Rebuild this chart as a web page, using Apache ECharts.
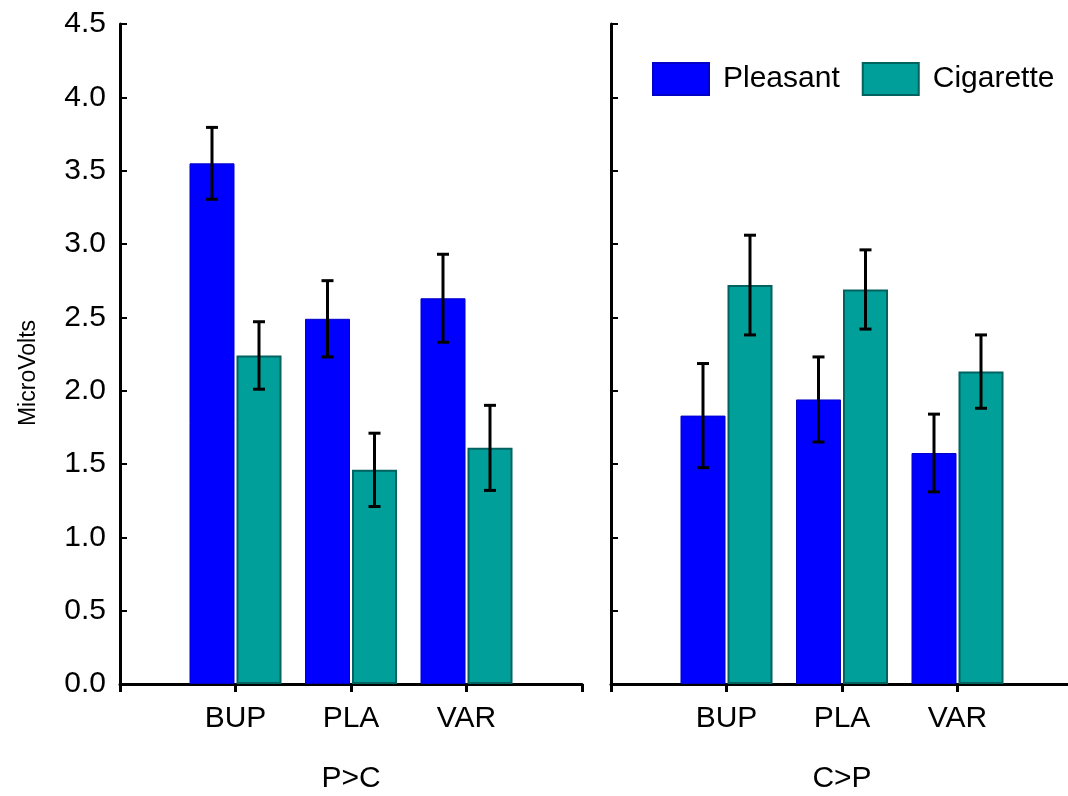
<!DOCTYPE html>
<html>
<head>
<meta charset="utf-8">
<title>MicroVolts</title>
<script src="https://cdn.jsdelivr.net/npm/echarts@6/dist/echarts.min.js"></script>
<style>
html, body { margin: 0; padding: 0; background: #fff; }
#chart { width: 1068px; height: 796px; }
</style>
</head>
<body>
<div id="chart"></div>
<script>
// values
const categories = ['BUP', 'PLA', 'VAR']
const panels = ['P>C', 'C>P']
const yTicks = [0, 0.5, 1.0, 1.5, 2.0, 2.5, 3.0, 3.5, 4.0, 4.5]

const pleasantPC = [3.55, 2.49, 2.63]
const pleasantPCErr = [0.245, 0.26, 0.30]
const cigarettePC = [2.24, 1.46, 1.61]
const cigarettePCErr = [0.23, 0.25, 0.29]

const pleasantCP = [1.83, 1.94, 1.575]
const pleasantCPErr = [0.355, 0.29, 0.265]
const cigaretteCP = [2.72, 2.69, 2.13]
const cigaretteCPErr = [0.34, 0.27, 0.25]

const font = 'Liberation Sans, Arial, sans-serif'
const blue = '#0000ff'
const teal = '#009f9a'
const barW = 45
const barGap = 2

// empty slots at both ends so the three groups sit on ticks 1..3 of 0..4
const axisCats = [''].concat(categories, [''])
const pad = arr => ['-'].concat(arr, ['-'])

const errData = (vals, errs, side) =>
  vals.map((v, i) => [i + 1, v - errs[i], v + errs[i], side])

const errSeries = (idx, vals, errs, side) => ({
  type: 'custom',
  xAxisIndex: idx,
  yAxisIndex: idx,
  z: 10,
  clip: false,
  encode: { x: 0, y: [1, 2] },
  data: errData(vals, errs, side),
  renderItem: (params, api) => {
    const off = api.value(3) * (barW + barGap) / 2
    const lo = api.coord([api.value(0), api.value(1)])
    const hi = api.coord([api.value(0), api.value(2)])
    const x = lo[0] + off
    const cap = 6
    const st = { stroke: '#000', lineWidth: 3 }
    return {
      type: 'group',
      children: [
        { type: 'line', shape: { x1: x, y1: lo[1], x2: x, y2: hi[1] }, style: st },
        { type: 'line', shape: { x1: x - cap, y1: lo[1], x2: x + cap, y2: lo[1] }, style: st },
        { type: 'line', shape: { x1: x - cap, y1: hi[1], x2: x + cap, y2: hi[1] }, style: st }
      ]
    }
  }
})

const barSeries = (idx, name, vals, color, border, bw) => ({
  name: name,
  type: 'bar',
  xAxisIndex: idx,
  yAxisIndex: idx,
  data: pad(vals),
  barWidth: barW,
  barGap: (barGap / barW * 100) + '%',
  itemStyle: { color: color, borderColor: border, borderWidth: bw }
})

const xAxis = (idx) => ({
  type: 'category',
  gridIndex: idx,
  data: axisCats,
  boundaryGap: false,
  name: panels[idx],
  nameLocation: 'middle',
  nameGap: 80,
  nameTextStyle: { fontSize: 30, color: '#000', fontFamily: font },
  axisLine: { lineStyle: { color: '#000', width: 3 } },
  axisTick: { show: true, interval: 0, length: 8, lineStyle: { color: '#000', width: 3 } },
  axisLabel: { interval: 0, fontSize: 30, color: '#000', fontFamily: font, margin: 20 },
  splitLine: { show: false }
})

const yAxis = (idx) => ({
  type: 'value',
  gridIndex: idx,
  min: yTicks[0],
  max: yTicks[yTicks.length - 1],
  interval: 0.5,
  name: idx === 0 ? 'MicroVolts' : '',
  nameLocation: 'middle',
  nameGap: 80,
  nameTextStyle: { fontSize: 23, color: '#000', fontFamily: font, padding: [0, 38, 0, 0] },
  axisLine: { show: true, lineStyle: { color: '#000', width: 3 } },
  axisTick: { show: true, inside: true, length: 7, lineStyle: { color: '#000', width: 2 } },
  axisLabel: {
    show: idx === 0,
    fontSize: 30,
    color: '#000',
    fontFamily: font,
    margin: 14,
    formatter: v => v.toFixed(1)
  },
  splitLine: { show: false }
})

const myChart = echarts.init(document.getElementById('chart'), null, { renderer: 'canvas' })

myChart.setOption({
  backgroundColor: '#fff',
  animation: false,
  textStyle: { fontFamily: font },
  legend: {
    data: ['Pleasant', 'Cigarette'],
    left: 652,
    top: 62,
    padding: 0,
    icon: 'rect',
    itemWidth: 56,
    itemHeight: 32,
    itemGap: 22,
    textStyle: { fontSize: 30, color: '#000', fontFamily: font, padding: [0, 0, 0, 9] }
  },
  grid: [
    { left: 120, top: 24, width: 462, height: 660, outerBoundsMode: 'none', containLabel: false },
    { left: 611, top: 24, width: 462, height: 660, outerBoundsMode: 'none', containLabel: false }
  ],
  xAxis: [xAxis(0), xAxis(1)],
  yAxis: [yAxis(0), yAxis(1)],
  series: [
    barSeries(0, 'Pleasant', pleasantPC, blue, '#0000c8', 1),
    barSeries(0, 'Cigarette', cigarettePC, teal, '#006360', 2),
    barSeries(1, 'Pleasant', pleasantCP, blue, '#0000c8', 1),
    barSeries(1, 'Cigarette', cigaretteCP, teal, '#006360', 2),
    errSeries(0, pleasantPC, pleasantPCErr, -1),
    errSeries(0, cigarettePC, cigarettePCErr, 1),
    errSeries(1, pleasantCP, pleasantCPErr, -1),
    errSeries(1, cigaretteCP, cigaretteCPErr, 1)
  ]
})
</script>
</body>
</html>
